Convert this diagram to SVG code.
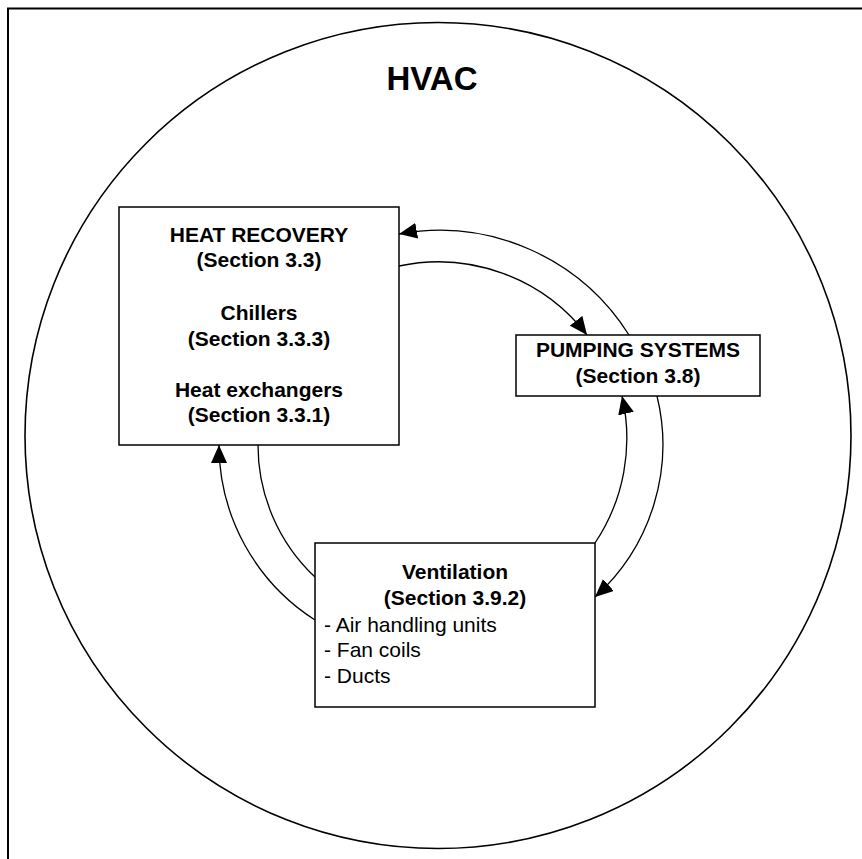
<svg xmlns="http://www.w3.org/2000/svg" width="862" height="859" viewBox="0 0 862 859">
<style>
.box{fill:#fff;stroke:#000;stroke-width:1.5}
.b{font-family:"Liberation Sans",Arial,sans-serif;font-weight:bold;font-size:21px;fill:#000;text-anchor:middle}
.n{font-family:"Liberation Sans",Arial,sans-serif;font-size:21px;fill:#000}
.arc{fill:none;stroke:#000;stroke-width:1.3}
</style>
<defs>
<marker id="ah" viewBox="0 0 18 16" refX="18" refY="8" markerWidth="18" markerHeight="16" markerUnits="userSpaceOnUse" orient="auto">
<path d="M0,0 L18,8 L0,16 z" fill="#000"/>
</marker>
</defs>
<rect x="0" y="0" width="862" height="859" fill="#fff"/>
<rect x="8" y="8.5" width="900" height="900" fill="none" stroke="#000" stroke-width="2"/>
<g id="hvac">
<circle cx="438" cy="435.5" r="413" fill="none" stroke="#000" stroke-width="1.6"/>
<text x="432" y="90" font-family="Liberation Sans, Arial, sans-serif" font-weight="bold" font-size="33" text-anchor="middle">HVAC</text>
</g>
<g id="connectors">
<path class="arc" d="M629,335 A224 224 0 0 0 399,234" marker-end="url(#ah)"/>
<path class="arc" d="M399,266 A188 188 0 0 1 587,335" marker-end="url(#ah)"/>
<path class="arc" d="M595,543 A188 188 0 0 0 622,396" marker-end="url(#ah)"/>
<path class="arc" d="M657,396 A205 205 0 0 1 595,597" marker-end="url(#ah)"/>
<path class="arc" d="M315,620 A208 208 0 0 1 219,445" marker-end="url(#ah)"/>
<path class="arc" d="M258,445 A181 181 0 0 0 315,577"/>
</g>
<g id="heat-recovery">
<rect class="box" x="119" y="207" width="280" height="238"/>
<text class="b" x="259" y="242">HEAT RECOVERY</text>
<text class="b" x="259" y="267">(Section 3.3)</text>
<text class="b" x="259" y="320">Chillers</text>
<text class="b" x="259" y="346">(Section 3.3.3)</text>
<text class="b" x="259" y="397">Heat exchangers</text>
<text class="b" x="259" y="422">(Section 3.3.1)</text>
</g>
<g id="pumping">
<rect class="box" x="516" y="335" width="244" height="61"/>
<text class="b" x="638" y="357">PUMPING SYSTEMS</text>
<text class="b" x="638" y="383">(Section 3.8)</text>
</g>
<g id="ventilation">
<rect class="box" x="315" y="543" width="280" height="164"/>
<text class="b" x="455" y="579">Ventilation</text>
<text class="b" x="455" y="605">(Section 3.9.2)</text>
<text class="n" x="324" y="632">- Air handling units</text>
<text class="n" x="324" y="657">- Fan coils</text>
<text class="n" x="324" y="683">- Ducts</text>
</g>
</svg>
